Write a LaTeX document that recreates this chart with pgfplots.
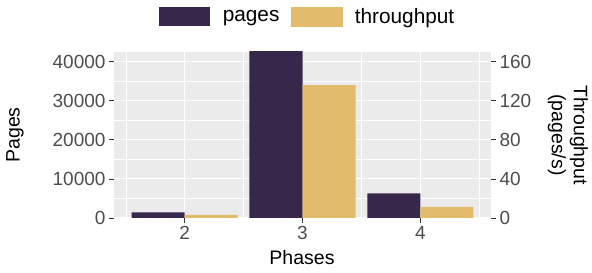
\documentclass[border=0pt]{standalone}
\usepackage{pgfplots}
\pgfplotsset{compat=1.18}
\usepackage{fontspec}
\setmainfont{Liberation Sans}
\definecolor{pagesC}{RGB}{55,40,75}
\definecolor{thrC}{RGB}{226,188,108}
\definecolor{panel}{RGB}{235,235,235}
\definecolor{tickC}{RGB}{77,77,77}
\definecolor{tickM}{RGB}{51,51,51}
\pgfplotsset{
  common/.style={
    at={(114pt,55pt)}, anchor=south west,
    scale only axis, width=377pt, height=166pt,
    xmin=1.4, xmax=4.6, ymin=0,
    tick align=outside,
    major tick length=5pt, minor tick length=0pt,
    tick style={tickM, line width=0.8pt},
    ticklabel style={font=\fontsize{19}{22}\selectfont, text=tickC},
    /pgf/number format/assume math mode=true,
    scaled y ticks=false,
    yticklabel style={/pgf/number format/1000 sep={}},
  }
}
\begin{document}
\begin{tikzpicture}[x=1pt,y=1pt]
\path[use as bounding box] (0,0) rectangle (592,273);
\begin{axis}[
  common,
  ymax=42490,
  axis background/.style={fill=panel},
  axis line style={draw=none},
  xtick={2,3,4}, minor xtick={1.5,2.5,3.5,4.5},
  ytick={0,10000,20000,30000,40000}, minor ytick={5000,15000,25000,35000},
  grid=both,
  major grid style={white, line width=1.1pt},
  minor grid style={white, line width=0.55pt},
  xtick pos=bottom, ytick pos=left,
  legend columns=2,
  legend style={at={(0.514,1.214)}, anchor=center, draw=none, fill=none,
    font=\fontsize{20.8}{24}\selectfont,
    /tikz/every odd column/.append style={column sep=10.5pt},
    /tikz/every even column/.append style={column sep=9.5pt}},
]
\addplot[ybar, bar width=0.45, bar shift=-0.225, fill=pagesC, draw=none,
  legend image code/.code={\fill[pagesC] (0pt,-9.5pt) rectangle (51pt,9.5pt);}]
  coordinates {(2,1460) (3,45000) (4,6330)};
\addlegendentry{pages}
\addlegendimage{legend image code/.code={\fill[thrC] (0pt,-9.5pt) rectangle (51pt,9.5pt);}}
\addlegendentry{throughput}
\end{axis}
\begin{axis}[
  common,
  ymax=169.96,
  axis x line=none, axis y line*=right,
  axis line style={draw=none},
  ytick={0,40,80,120,160},
  ytick pos=right,
]
\addplot[ybar, bar width=0.45, bar shift=0.225, fill=thrC, draw=none]
  coordinates {(2,3.1) (3,136) (4,11.4)};
\end{axis}
\node[rotate=90, font=\fontsize{19.5}{22}\selectfont] at (15,138) {Pages};
\node[rotate=-90, align=center, font=\fontsize{19.5}{22}\selectfont] at (568,138) {Throughput\\(pages/s)};
\node[font=\fontsize{19.5}{22}\selectfont] at (302,15) {Phases};
\end{tikzpicture}
\end{document}
